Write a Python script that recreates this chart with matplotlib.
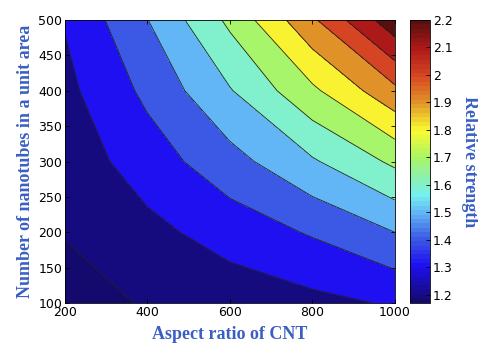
import matplotlib
matplotlib.use("Agg")
import matplotlib.pyplot as plt
import matplotlib.ticker as mticker
from matplotlib import cm, colors
import numpy as np

# grid (MATLAB-style coarse grid)
aspect_ratio = [200, 400, 600, 800, 1000]
n_tubes = [100, 200, 300, 400, 500]
strength = [
    [1.170, 1.206, 1.242, 1.273, 1.310],   # y = 100
    [1.204, 1.272, 1.342, 1.410, 1.500],   # y = 200
    [1.240, 1.350, 1.463, 1.588, 1.720],   # y = 300
    [1.273, 1.423, 1.593, 1.780, 1.975],   # y = 400
    [1.307, 1.498, 1.722, 1.983, 2.270],   # y = 500
]
levels = [1.2, 1.3, 1.4, 1.5, 1.6, 1.7, 1.8, 1.9, 2.0, 2.1, 2.2]
cbar_ticks = [1.2, 1.3, 1.4, 1.5, 1.6, 1.7, 1.8, 1.9, 2.0, 2.1, 2.2]

vmin, vmax = 1.17, 2.2
label_blue = '#3a5fc4'

# muted jet, as it looks in the printed figure
anchors = [
    (1.17, (20, 10, 110)),
    (1.30, (30, 15, 240)),
    (1.40, (60, 90, 230)),
    (1.50, (100, 185, 245)),
    (1.56, (115, 240, 240)),
    (1.60, (130, 240, 200)),
    (1.70, (170, 245, 100)),
    (1.80, (250, 250, 50)),
    (1.90, (225, 150, 40)),
    (2.00, (215, 70, 35)),
    (2.10, (175, 25, 25)),
    (2.20, (90, 15, 15)),
]
cmap = colors.LinearSegmentedColormap.from_list(
    'mjet', [((v - vmin) / (vmax - vmin), np.array(c) / 255) for v, c in anchors], N=64)
norm = colors.Normalize(vmin=vmin, vmax=vmax)

X, Y = np.meshgrid(aspect_ratio, n_tubes)
Z = np.array(strength)

bounds = [Z.min()] + levels + [Z.max()]
# MATLAB colours each band by its lower bound
band_colors = [cmap(norm(max(lo, vmin))) for lo in bounds[:-1]]

fig = plt.figure(figsize=(4.78, 3.44), dpi=100)
ax = fig.add_axes([0.136, 0.119, 0.690, 0.823])
cax = fig.add_axes([0.858, 0.119, 0.042, 0.823])

ax.contourf(X, Y, Z, levels=bounds, colors=band_colors)
ax.contour(X, Y, Z, levels=levels, colors='#202020', linewidths=0.6)

ax.set_xlim(200, 1000)
ax.set_ylim(100, 500)
ax.set_xticks([200, 400, 600, 800, 1000])
ax.set_yticks([100, 150, 200, 250, 300, 350, 400, 450, 500])
ax.tick_params(direction='in', top=True, right=True, length=3, width=0.6,
               labelsize=9, pad=2)
for s in ax.spines.values():
    s.set_linewidth(0.6)

ax.set_xlabel('Aspect ratio of CNT', family='Liberation Serif', fontweight='bold',
              fontsize=13, color=label_blue, labelpad=5)
ax.set_ylabel('Number of nanotubes in a unit area', family='Liberation Serif',
              fontweight='bold', fontsize=13, color=label_blue, labelpad=3)

sm = cm.ScalarMappable(norm=norm, cmap=cmap)
cb = fig.colorbar(sm, cax=cax, ticks=cbar_ticks)
cb.ax.yaxis.set_major_formatter(mticker.FormatStrFormatter('%g'))
cb.ax.tick_params(direction='in', length=3, width=0.6, labelsize=9, pad=2)
cb.outline.set_linewidth(0.6)
cb.set_label('Relative strength', family='Liberation Serif', fontweight='bold',
             fontsize=13, color=label_blue, rotation=270, labelpad=18)

fig.savefig('out.png', dpi=100)
